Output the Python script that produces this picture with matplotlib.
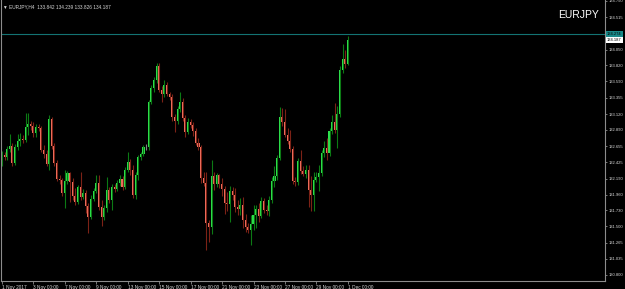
import numpy as np
import matplotlib.pyplot as plt

# H4 candles EURJPY, 1 Nov 2017 .. 1 Dec 2017
opens = [132.43, 132.53, 132.50, 132.62, 132.66, 132.41, 132.64, 132.73, 132.76, 132.75,
         132.93, 132.98, 132.95, 132.85, 132.93, 132.92, 132.60, 132.54, 132.40, 133.05,
         132.66, 132.41, 132.18, 132.17, 131.98, 132.15, 132.27, 132.14, 131.94, 131.85,
         132.07, 131.92, 131.98, 131.79, 131.64, 131.90, 132.01, 132.13, 131.78, 131.64,
         131.77, 132.03, 131.88, 132.07, 132.04, 132.13, 132.18, 132.07, 132.31, 132.43,
         132.31, 131.95, 132.24, 132.50, 132.54, 132.64, 132.64, 133.29, 133.50, 133.61,
         133.81, 133.47, 133.41, 133.54, 133.41, 133.37, 133.08, 133.02, 133.19, 133.29,
         133.06, 132.86, 133.01, 132.96, 132.88, 132.70, 132.64, 132.20, 132.13, 131.55,
         131.49, 132.23, 132.11, 132.24, 132.11, 132.04, 131.84, 131.82, 132.01, 131.95,
         131.78, 131.75, 131.81, 131.59, 131.49, 131.45, 131.53, 131.66, 131.75, 131.65,
         131.87, 131.74, 131.72, 131.88, 132.15, 132.23, 132.49, 133.08, 133.01, 132.82,
         132.73, 132.62, 132.15, 132.14, 132.44, 132.30, 132.26, 132.31, 132.03, 131.95,
         132.17, 132.21, 132.27, 132.56, 132.63, 132.56, 132.88, 133.01, 132.89, 133.12,
         133.76, 133.91, 133.842]
highs = [132.59, 132.57, 132.66, 132.83, 132.70, 132.69, 132.83, 132.85, 132.82, 133.13,
         133.13, 133.02, 133.01, 132.98, 132.98, 132.95, 132.67, 132.60, 133.11, 133.08,
         132.70, 132.46, 132.24, 132.20, 132.31, 132.30, 132.28, 132.20, 132.05, 132.10,
         132.28, 132.04, 132.03, 131.84, 131.95, 132.05, 132.24, 132.24, 131.88, 131.81,
         132.21, 132.07, 132.11, 132.11, 132.17, 132.24, 132.23, 132.36, 132.57, 132.47,
         132.39, 132.28, 132.53, 132.57, 132.67, 132.69, 133.32, 133.54, 133.65, 133.86,
         133.86, 133.52, 133.61, 133.58, 133.44, 133.41, 133.12, 133.24, 133.44, 133.35,
         133.11, 133.06, 133.05, 133.01, 132.92, 132.78, 132.67, 132.28, 132.28, 131.59,
         132.46, 132.28, 132.27, 132.26, 132.20, 132.08, 132.00, 132.08, 132.07, 132.05,
         131.88, 131.91, 131.92, 131.68, 131.55, 131.66, 131.81, 131.81, 131.84, 131.92,
         131.91, 131.81, 131.94, 132.21, 132.37, 132.53, 133.22, 133.21, 133.19, 132.92,
         132.89, 132.66, 132.21, 132.49, 132.60, 132.37, 132.39, 132.39, 132.23, 132.28,
         132.28, 132.39, 132.60, 132.73, 132.78, 132.92, 133.11, 133.28, 133.24, 133.81,
         134.13, 134.04, 134.239]
lows = [132.37, 132.46, 132.46, 132.57, 132.37, 132.39, 132.60, 132.66, 132.70, 132.72,
        132.82, 132.89, 132.79, 132.79, 132.88, 132.57, 132.49, 132.37, 132.31, 132.62,
        132.37, 132.15, 132.11, 131.94, 131.77, 132.11, 131.85, 131.88, 131.81, 131.82,
        131.88, 131.90, 131.69, 131.41, 131.61, 131.87, 131.98, 131.74, 131.51, 131.59,
        131.71, 131.84, 131.74, 132.00, 132.01, 132.08, 132.03, 132.04, 132.28, 132.24,
        131.91, 131.90, 132.17, 132.46, 132.52, 132.60, 132.60, 133.27, 133.44, 133.57,
        133.44, 133.29, 133.37, 133.38, 133.32, 133.02, 132.86, 132.98, 133.15, 133.02,
        132.79, 132.83, 132.92, 132.80, 132.67, 132.60, 132.13, 132.08, 131.16, 131.28,
        131.39, 132.03, 132.07, 132.05, 131.94, 131.68, 131.72, 131.56, 131.88, 131.71,
        131.66, 131.66, 131.48, 131.42, 131.41, 131.23, 131.45, 131.48, 131.56, 131.62,
        131.69, 131.66, 131.65, 131.84, 132.07, 132.17, 132.46, 132.95, 132.79, 132.69,
        132.57, 132.11, 132.08, 132.10, 132.26, 132.23, 132.20, 131.78, 131.72, 131.72,
        132.14, 132.01, 132.23, 132.50, 132.46, 132.52, 132.83, 132.85, 132.63, 133.08,
        133.71, 133.78, 133.826]
closes = [132.53, 132.50, 132.62, 132.66, 132.41, 132.64, 132.73, 132.76, 132.75, 132.93,
          132.98, 132.95, 132.85, 132.93, 132.92, 132.60, 132.54, 132.40, 133.05, 132.66,
          132.41, 132.18, 132.17, 131.98, 132.15, 132.27, 132.14, 131.94, 131.85, 132.07,
          131.92, 131.98, 131.79, 131.64, 131.90, 132.01, 132.13, 131.78, 131.64, 131.77,
          132.03, 131.88, 132.07, 132.04, 132.13, 132.18, 132.07, 132.31, 132.43, 132.31,
          131.95, 132.24, 132.50, 132.54, 132.64, 132.64, 133.29, 133.50, 133.61, 133.81,
          133.47, 133.41, 133.54, 133.41, 133.37, 133.08, 133.02, 133.19, 133.29, 133.06,
          132.86, 133.01, 132.96, 132.88, 132.70, 132.64, 132.20, 132.13, 131.55, 131.49,
          132.23, 132.11, 132.24, 132.11, 132.04, 131.84, 131.82, 132.01, 131.95, 131.78,
          131.75, 131.81, 131.59, 131.49, 131.45, 131.53, 131.66, 131.75, 131.65, 131.87,
          131.74, 131.72, 131.88, 132.15, 132.23, 132.49, 133.08, 133.01, 132.82, 132.73,
          132.62, 132.15, 132.14, 132.44, 132.30, 132.26, 132.31, 132.03, 131.95, 132.17,
          132.21, 132.27, 132.56, 132.63, 132.56, 132.88, 133.01, 132.89, 133.12, 133.76,
          133.91, 133.842, 134.187]

price_ticks = [134.750, 134.515, 134.280, 134.050, 133.820, 133.590, 133.355, 133.120, 132.890,
               132.655, 132.425, 132.190, 131.960, 131.730, 131.500, 131.265, 131.035, 130.800]
date_ticks = [0, 12, 24, 36, 48, 60, 72, 84, 96, 108, 120, 132]
date_labels = ["1 Nov 2017", "3 Nov 00:00", "7 Nov 00:00", "9 Nov 00:00", "13 Nov 00:00",
               "15 Nov 00:00", "17 Nov 00:00", "21 Nov 00:00", "23 Nov 00:00", "27 Nov 00:00",
               "29 Nov 00:00", "1 Dec 00:00"]
hline_price = 134.274
header = "EURJPY,H4  133.842 134.239 133.826 134.187"

BULL_BODY, BULL_WICK = "#2ee24e", "#0c7a14"
BEAR_BODY, BEAR_WICK = "#f2705e", "#7c2216"
AXIS = "#8c8c8c"
LINE = "#137373"
SMALL = dict(family="Liberation Sans", fontsize=3.4, color="#d8d8d8")
SCALE = dict(family="Liberation Sans", fontsize=3.0, color="#d8d8d8")

fig = plt.figure(figsize=(6.25, 2.89), dpi=100, facecolor="black")
ax = fig.add_axes([1 / 625, 1 - 281 / 289, 604 / 625, 281 / 289], facecolor="black")

o = np.array(opens)
h = np.array(highs)
l = np.array(lows)
c = np.array(closes)
x = np.arange(len(c))
up = c > o
down = c < o
doji = c == o

ax.vlines(x[up], l[up], h[up], color=BULL_WICK, lw=0.8)
ax.vlines(x[down], l[down], h[down], color=BEAR_WICK, lw=0.8)
ax.vlines(x[doji], l[doji], h[doji], color="#808080", lw=0.8)
body_h = np.maximum(np.abs(c - o), 0.006)
ax.bar(x[up], body_h[up], bottom=o[up], width=0.78, color=BULL_BODY, lw=0)
ax.bar(x[down], body_h[down], bottom=c[down], width=0.78, color=BEAR_BODY, lw=0)
ax.bar(x[doji], body_h[doji], bottom=o[doji], width=0.78, color="#c0c0c0", lw=0)

ax.axhline(hline_price, color=LINE, lw=0.8)

ax.set_xlim(-0.38, 230.15)
ax.set_ylim(130.713, 134.764)

for side in ["left", "right", "bottom"]:
    ax.spines[side].set_color(AXIS)
    ax.spines[side].set_linewidth(0.8)
ax.spines["top"].set_visible(False)

ax.yaxis.tick_right()
ax.set_yticks(price_ticks)
ax.set_yticklabels([f"{p:.3f}" for p in price_ticks], **SCALE)
ax.tick_params(axis="y", length=1.6, width=0.6, color=AXIS, pad=0.8)

ax.set_xticks(date_ticks)
ax.set_xticklabels(date_labels, ha="left", **SMALL)
ax.tick_params(axis="x", length=2.0, width=0.6, color=AXIS, pad=0.8)

# price boxes on the scale
ax.text(1.003, hline_price, f"{hline_price:.3f}", transform=ax.get_yaxis_transform(),
        va="center", ha="left", family="Liberation Sans", fontsize=3.0, color="black",
        bbox=dict(boxstyle="square,pad=0.3", fc="#1a8a8a", ec="none"), clip_on=False, zorder=5)
ax.text(1.003, closes[-1], f"{closes[-1]:.3f}", transform=ax.get_yaxis_transform(),
        va="center", ha="left", family="Liberation Sans", fontsize=3.0, color="black",
        bbox=dict(boxstyle="square,pad=0.3", fc="white", ec="none"), clip_on=False, zorder=5)

ax.text(0.004, 0.985, "\u25bc " + header, transform=ax.transAxes, va="top", ha="left", **SMALL)
ax.text(0.99, 0.965, "EURJPY", transform=ax.transAxes, va="top", ha="right",
        family="Liberation Sans", fontsize=7.5, color="white")

fig.savefig("out.png", dpi=100, facecolor="black")
